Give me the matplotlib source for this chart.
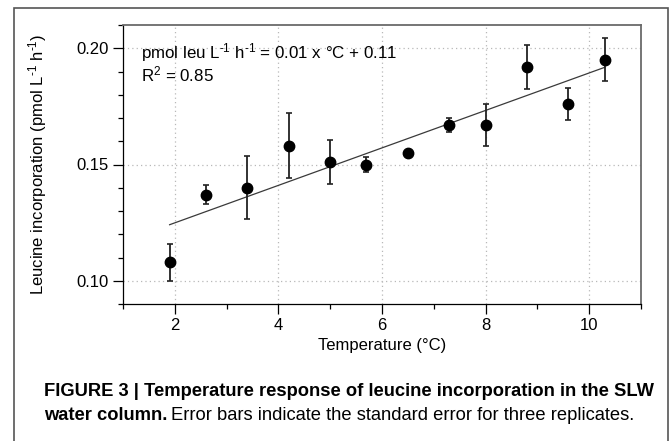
import matplotlib
matplotlib.use('Agg')
import matplotlib.pyplot as plt
from matplotlib.patches import Rectangle
from matplotlib.ticker import FixedLocator, FormatStrFormatter

# ============ DATA ============
temp_c = [1.9, 2.6, 3.4, 4.2, 5.0, 5.7, 6.5, 7.3, 8.0, 8.8, 9.6, 10.3]
leu_rate = [0.108, 0.137, 0.140, 0.158, 0.151, 0.150, 0.155, 0.167, 0.167, 0.192, 0.176, 0.195]
leu_se = [0.008, 0.004, 0.0135, 0.014, 0.0094, 0.0033, 0.0, 0.0031, 0.0089, 0.0095, 0.0068, 0.0093]

# regression line end points
fit_x = [1.9, 10.3]
fit_y = [0.1241, 0.1918]

x_major = [2, 4, 6, 8, 10]
x_minor = [1, 3, 5, 7, 9, 11]
y_major = [0.10, 0.15, 0.20]
y_minor = [0.09, 0.11, 0.12, 0.13, 0.14, 0.16, 0.17, 0.18, 0.19, 0.21]

# ============ STYLE ============
plt.rcParams['font.family'] = ['Liberation Sans', 'DejaVu Sans']
plt.rcParams['mathtext.fontset'] = 'custom'
plt.rcParams['mathtext.rm'] = 'Liberation Sans'
plt.rcParams['mathtext.it'] = 'Liberation Sans:italic'
plt.rcParams['mathtext.bf'] = 'Liberation Sans:bold'

W, H = 670, 441
fig = plt.figure(figsize=(W / 100, H / 100), dpi=100)
ax = fig.add_axes([123 / W, 1 - 304 / H, (641 - 123) / W, (304 - 25) / H])

ax.grid(True, which='major', color='#b8b8b8', linestyle=(0, (1, 2.5)), linewidth=0.9)
ax.set_axisbelow(True)

ax.plot(fit_x, fit_y, color='#3a3a3a', linewidth=0.9, zorder=2)
ax.errorbar(temp_c, leu_rate, yerr=leu_se, fmt='o', color='black',
            ecolor='#222222', elinewidth=1.3, capsize=2.5, capthick=1.2,
            markersize=7.5, zorder=3)

ax.set_xlim(1, 11)
ax.set_ylim(0.09, 0.21)
ax.xaxis.set_major_locator(FixedLocator(x_major))
ax.xaxis.set_minor_locator(FixedLocator(x_minor))
ax.yaxis.set_major_locator(FixedLocator(y_major))
ax.yaxis.set_minor_locator(FixedLocator(y_minor))
ax.yaxis.set_major_formatter(FormatStrFormatter('%.2f'))

ax.tick_params(which='major', direction='out', length=7, width=0.9, labelsize=12, pad=3)
ax.tick_params(which='minor', direction='out', length=3.5, width=0.9)
ax.tick_params(axis='y', which='both', left=True, right=False)
ax.tick_params(axis='x', which='both', bottom=True, top=False)

for side in ['left', 'bottom']:
    ax.spines[side].set_color('black')
    ax.spines[side].set_linewidth(0.9)
for side in ['top', 'right']:
    ax.spines[side].set_color('#6a6a6a')
    ax.spines[side].set_linewidth(1.3)

ax.set_xlabel('Temperature (°C)', fontsize=12, labelpad=4)
ax.set_ylabel(r'Leucine incorporation (pmol L$^{\text{-1}}$ h$^{\text{-1}}$)',
              fontsize=12, labelpad=20)

ax.text(0.035, 0.903, r'pmol leu L$^{\text{-1}}$ h$^{\text{-1}}$ = 0.01 x °C + 0.11',
        transform=ax.transAxes, fontsize=12.2, va='center', ha='left')
ax.text(0.035, 0.821, 'R$^{2}$ = 0.85',
        transform=ax.transAxes, fontsize=12.2, va='center', ha='left')

# outer frame of the figure panel
fig.patches.append(Rectangle((14 / W, -0.05), (668 - 14) / W, 1.05 - 8 / H,
                             transform=fig.transFigure, fill=False,
                             edgecolor='#555555', linewidth=1.2))

# ============ CAPTION ============
cap_x = 44 / W
cap_fs = 13.2
fig.text(cap_x, 1 - 392 / H,
         'FIGURE 3 | Temperature response of leucine incorporation in the SLW',
         fontsize=cap_fs, fontweight='bold', va='center', ha='left')
t_bold = fig.text(cap_x, 1 - 416 / H, 'water column.',
                  fontsize=cap_fs, fontweight='bold', va='center', ha='left')
renderer = fig.canvas.get_renderer()
bb = t_bold.get_window_extent(renderer=renderer)
fig.text(bb.x1 / W + 4 / W, 1 - 416 / H,
         'Error bars indicate the standard error for three replicates.',
         fontsize=cap_fs, va='center', ha='left')

fig.savefig('out.png', dpi=100)
